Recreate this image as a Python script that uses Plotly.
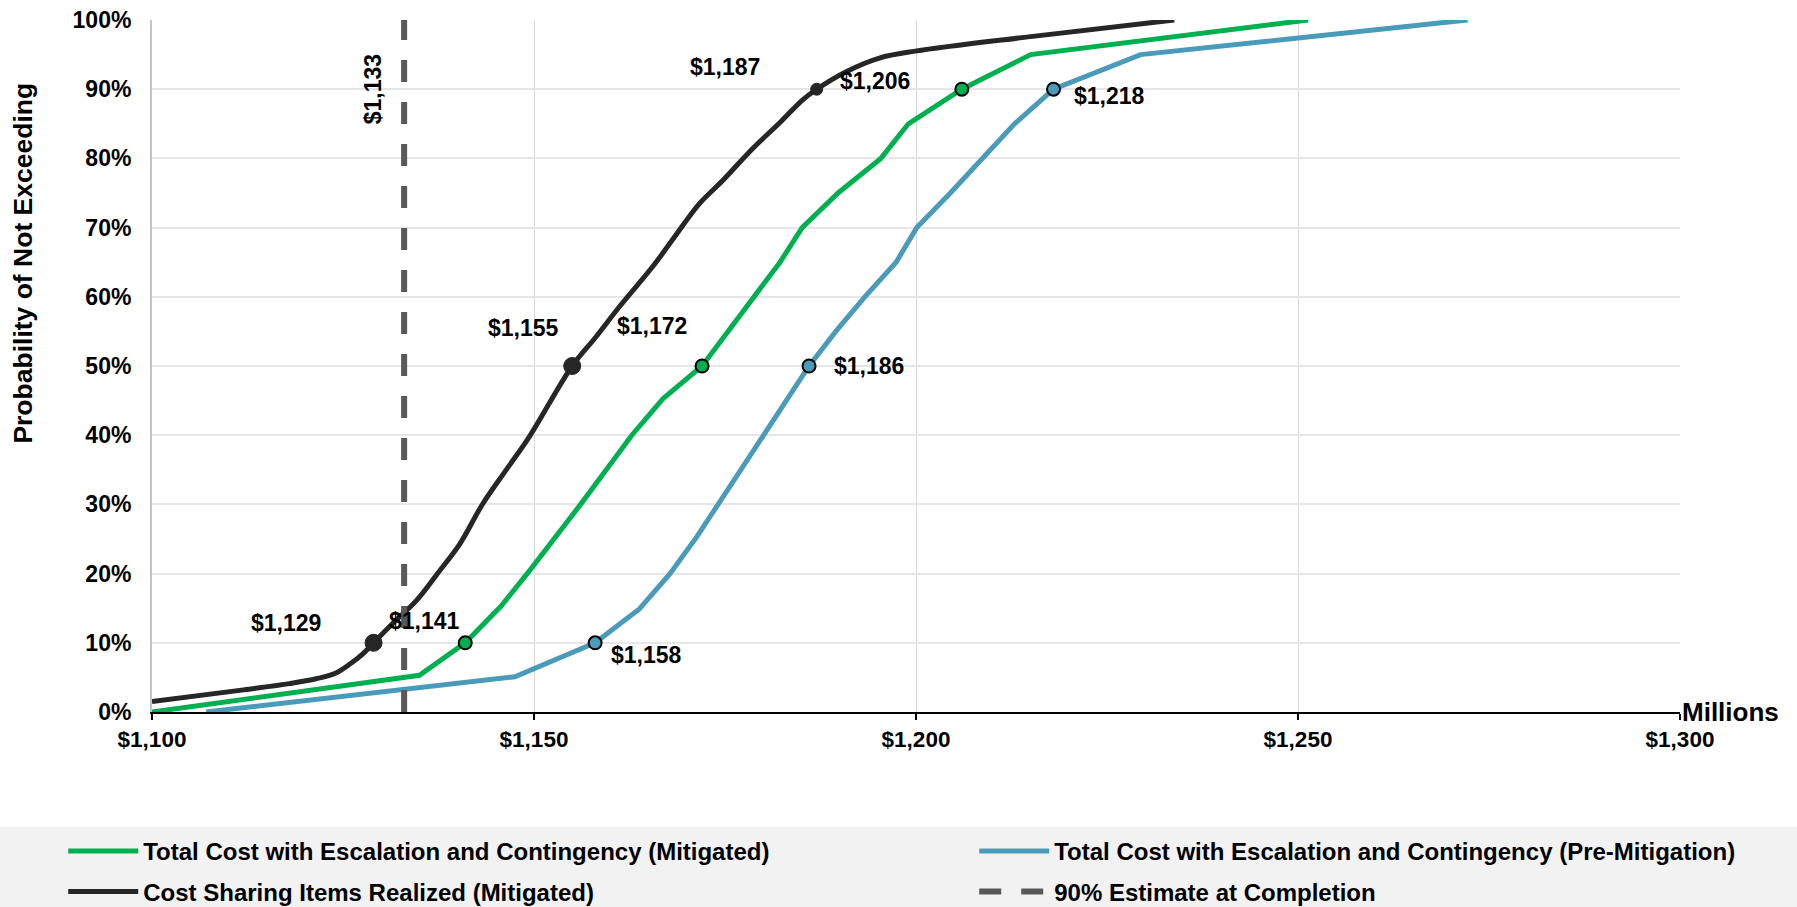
import plotly.graph_objects as go

# Cumulative cost distributions: cost ($M) vs probability of not exceeding (%)
mit_cost = [1100, 1135, 1141, 1145.7, 1149.4, 1156.1, 1162.8, 1166.9, 1172, 1175.4,
            1178.8, 1182.2, 1185.1, 1189.8, 1195.4, 1199, 1206, 1215, 1251.3]
mit_prob = [0, 5.3, 10, 15.3, 20.4, 30, 40, 45.3, 50, 55, 60, 65, 70, 75, 80, 85, 90, 95, 100]

pre_cost = [1107.1, 1147.5, 1158, 1163.8, 1167.8, 1171.3, 1174.1, 1177.1, 1180.1, 1183.0,
            1186, 1189.5, 1193.3, 1197.4, 1200.1, 1204.5, 1208.7, 1212.9, 1218, 1229.4, 1272.2]
pre_prob = [0, 5.1, 10, 14.9, 20, 25.3, 30, 35, 40, 45, 50, 55, 60, 65, 70, 75, 80, 85, 90, 95, 100]

share_cost = [1100, 1112, 1118, 1121.5, 1124, 1126, 1127.6, 1129, 1131.5, 1134.6, 1137.5,
              1140.3, 1143.3, 1146.5, 1149.4, 1155, 1158.1, 1161.2, 1165.7, 1168.1, 1171.6,
              1174.7, 1178.6, 1182.3, 1185.1, 1187, 1190.8, 1195.2, 1199.9, 1215, 1233.8]
share_prob = [1.5, 3.2, 4.1, 4.8, 5.6, 7.0, 8.4, 10, 12.8, 16.1, 20.2,
              24.3, 30.1, 35.2, 39.8, 50, 54.2, 58.6, 64.6, 68.2, 73.4,
              76.8, 81.4, 85.3, 88.4, 90, 92.5, 94.5, 95.5, 97.6, 100]

# P10 / P50 / P90 values called out on each curve
pct_marks = [10, 50, 90]
mit_marks = [1141, 1172, 1206]
pre_marks = [1158, 1186, 1218]
share_marks = [1129, 1155, 1187]
eac_90 = 1133

x_ticks = [1100, 1150, 1200, 1250, 1300]
y_ticks = [0, 10, 20, 30, 40, 50, 60, 70, 80, 90, 100]

names = [
    "Total Cost with Escalation and Contingency (Mitigated)",
    "Total Cost with Escalation and Contingency (Pre-Mitigation)",
    "Cost Sharing Items Realized (Mitigated)",
    "90% Estimate at Completion",
]

GREEN = "#00B050"
BLUE = "#4A9BB9"
BLACK = "#262626"
DASH = "#595959"
FONT = "Liberation Sans, Arial, sans-serif"


def money(v):
    return f"${v:,}"


fig = go.Figure()

fig.add_trace(go.Scatter(x=mit_cost, y=mit_prob, mode="lines", name=names[0],
                         line=dict(color=GREEN, width=5), legend="legend"))
fig.add_trace(go.Scatter(x=pre_cost, y=pre_prob, mode="lines", name=names[1],
                         line=dict(color=BLUE, width=5), legend="legend2"))
fig.add_trace(go.Scatter(x=share_cost, y=share_prob, mode="lines", name=names[2],
                         line=dict(color=BLACK, width=5, shape="spline", smoothing=1.0),
                         legend="legend3"))
fig.add_trace(go.Scatter(x=[eac_90, eac_90], y=[0, 100], mode="lines", name=names[3],
                         line=dict(color=DASH, width=6, dash="22px,20px"),
                         legend="legend4"))

# percentile markers
fig.add_trace(go.Scatter(x=mit_marks, y=pct_marks, mode="markers", showlegend=False,
                         marker=dict(size=13, color=GREEN, opacity=1,
                                     line=dict(color="black", width=2)),
                         cliponaxis=False))
fig.add_trace(go.Scatter(x=pre_marks, y=pct_marks, mode="markers", showlegend=False,
                         marker=dict(size=13, color=BLUE, opacity=1,
                                     line=dict(color="black", width=2)),
                         cliponaxis=False))
fig.add_trace(go.Scatter(x=share_marks, y=pct_marks, mode="markers", showlegend=False,
                         marker=dict(size=[17, 17, 12], color=BLACK, opacity=1,
                                     line=dict(color=BLACK, width=1)),
                         cliponaxis=False))

# value labels (pixel offsets from each marker)
label_offsets = {
    "share": [(-88, 20), (-49, 38), (-92, 22)],
    "mit": [(-41, 22), (-50, 40), (-87, 8)],
    "pre": [(51, -12), (60, 0), (56, -7)],
}
LABEL_FONT = dict(size=23, color="black", family=FONT, weight="bold")
for key, vals in (("share", share_marks), ("mit", mit_marks), ("pre", pre_marks)):
    for v, p, (dx, dy) in zip(vals, pct_marks, label_offsets[key]):
        fig.add_annotation(x=v, y=p, text=money(v), showarrow=False,
                           xshift=dx, yshift=dy, font=LABEL_FONT)

fig.add_annotation(x=eac_90, y=90, text=money(eac_90), showarrow=False, textangle=-90,
                   xshift=-31, font=LABEL_FONT)

fig.add_annotation(x=1.0, xref="paper", y=0, yref="y", text="Millions", showarrow=False,
                   xanchor="left", yanchor="middle",
                   font=dict(size=26, color="black", family=FONT, weight="bold"))

fig.add_annotation(x=-0.0844, xref="paper", y=0.648, yref="paper",
                   text="Probability of Not Exceeding", showarrow=False, textangle=-90,
                   xanchor="center", yanchor="middle",
                   font=dict(size=26.5, color="black", family=FONT, weight="bold"))

# grey band behind the legend
fig.add_shape(type="rect", xref="paper", yref="paper", x0=-0.11, x1=1.09,
              y0=-0.166, y1=-0.30, fillcolor="#F2F2F2", line=dict(width=0), layer="below")

legend_common = dict(orientation="h", xanchor="left", yanchor="middle",
                     bgcolor="rgba(0,0,0,0)", itemwidth=70,
                     font=dict(size=24, color="black", family=FONT, weight="bold"))
col_x = [-0.0581, 0.5381]
row_y = [-0.2016, -0.2601]

fig.update_layout(
    width=1797, height=907,
    margin=dict(l=152, r=117, t=20, b=195, autoexpand=False),
    paper_bgcolor="white", plot_bgcolor="white",
    font=dict(family=FONT, size=22, color="black", weight="bold"),
    legend=dict(x=col_x[0], y=row_y[0], **legend_common),
    legend2=dict(x=col_x[1], y=row_y[0], **legend_common),
    legend3=dict(x=col_x[0], y=row_y[1], **legend_common),
    legend4=dict(x=col_x[1], y=row_y[1], **legend_common),
    xaxis=dict(range=[1100, 1300], tickvals=x_ticks, ticktext=[money(v) for v in x_ticks],
               showgrid=True, gridcolor="#D9D9D9", gridwidth=1,
               showline=True, linecolor="black", linewidth=2,
               ticks="outside", ticklen=6, tickcolor="black", tickwidth=1.5,
               ticklabelstandoff=0, zeroline=False,
               tickfont=dict(size=22.5, family=FONT, weight="bold", color="black")),
    yaxis=dict(range=[0, 100], tickvals=y_ticks, ticktext=[f"{v}%" for v in y_ticks],
               showgrid=True, gridcolor="#E6E6E6", gridwidth=2,
               showline=True, linecolor="#C4C4C4", linewidth=2,
               ticks="", ticklabelstandoff=14, zeroline=False,
               tickfont=dict(size=23, family=FONT, weight="bold", color="black")),
)

fig.write_html("out.html")
